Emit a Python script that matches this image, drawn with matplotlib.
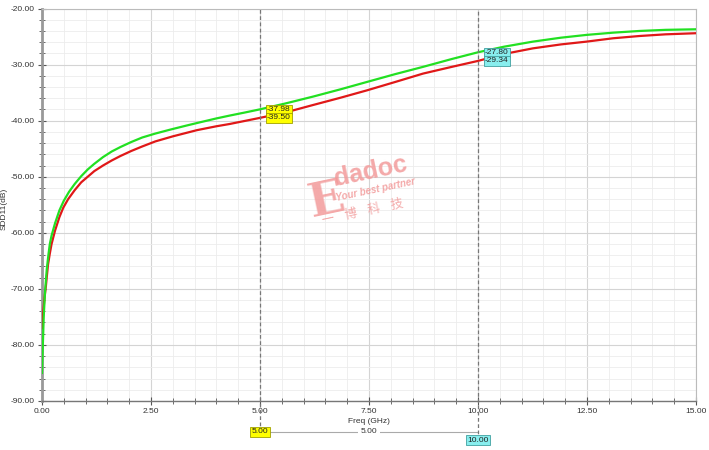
import matplotlib
matplotlib.use("Agg")
import matplotlib.pyplot as plt
from matplotlib.ticker import MultipleLocator, FormatStrFormatter
import matplotlib.transforms as mtransforms

plt.rcParams["font.family"] = ["Liberation Sans", "DejaVu Sans"]

# green trace (SDD11, dB)
freq_g = [0.0, 0.02, 0.04, 0.07, 0.11, 0.15, 0.18, 0.22, 0.30, 0.40, 0.50,
          0.62, 0.75, 0.90, 1.05, 1.20, 1.40, 1.60, 1.80, 2.05, 2.30, 2.60,
          2.94, 3.30, 3.62, 4.0, 4.3, 4.65, 5.0, 5.6, 6.22, 6.85, 7.45, 8.1,
          8.74, 9.4, 10.0, 10.6, 11.26, 11.9, 12.49, 13.1, 13.7, 14.3, 15.0]
sdd_g = [-85.0, -80.0, -75.0, -70.5, -66.5, -63.8, -62.0, -60.5, -58.3, -56.0,
         -54.3, -52.7, -51.3, -49.9, -48.7, -47.7, -46.5, -45.5, -44.7, -43.8,
         -43.0, -42.3, -41.6, -40.9, -40.3, -39.6, -39.1, -38.55, -37.98,
         -36.9, -35.7, -34.4, -33.1, -31.7, -30.4, -29.0, -27.80, -26.8,
         -25.9, -25.2, -24.7, -24.3, -24.0, -23.8, -23.7]

# red trace
freq_r = [0.01, 0.03, 0.06, 0.09, 0.11, 0.14, 0.18, 0.22, 0.30, 0.40, 0.49,
          0.60, 0.75, 0.90, 1.05, 1.20, 1.40, 1.60, 1.80, 2.05, 2.30, 2.60,
          3.0, 3.3, 3.55, 4.0, 4.3, 4.65, 5.0, 5.6, 6.22, 6.85, 7.45, 8.1,
          8.74, 9.4, 10.0, 10.6, 11.26, 11.9, 12.49, 13.1, 13.7, 14.3, 15.0]
sdd_r = [-77.0, -74.0, -71.5, -69.5, -67.9, -65.6, -63.7, -62.0, -59.6, -57.2,
         -55.5, -54.0, -52.4, -51.0, -50.0, -49.0, -48.0, -47.1, -46.3, -45.4,
         -44.6, -43.7, -42.8, -42.2, -41.7, -41.0, -40.6, -40.05, -39.50,
         -38.5, -37.2, -35.9, -34.6, -33.1, -31.6, -30.4, -29.34, -28.1,
         -27.1, -26.4, -25.9, -25.3, -24.9, -24.6, -24.4]

# cursor markers
marker_x = [5.0, 10.0]
marker_green = [-37.98, -27.80]
marker_red = [-39.50, -29.34]
marker_fc = ["#ffff00", "#88eeee"]
marker_ec = ["#a0a000", "#40a0a0"]

GREEN = "#22e022"
RED = "#e01818"

fig = plt.figure(figsize=(7.09, 4.5), dpi=100)
ax = fig.add_axes([0.0592, 0.109, 0.9225, 0.872])

ax.set_xlim(0, 15)
ax.set_ylim(-90, -20)
ax.xaxis.set_major_locator(MultipleLocator(2.5))
ax.xaxis.set_minor_locator(MultipleLocator(0.5))
ax.yaxis.set_major_locator(MultipleLocator(10))
ax.yaxis.set_minor_locator(MultipleLocator(2))
ax.xaxis.set_major_formatter(FormatStrFormatter("%.2f"))
ax.yaxis.set_major_formatter(FormatStrFormatter("%.2f"))

ax.grid(which="major", color="#d4d4d4", lw=0.8)
ax.grid(which="minor", color="#ececec", lw=0.6)
ax.set_axisbelow(True)

ax.tick_params(which="both", direction="inout", color="#555555",
               labelsize=6, labelcolor="#333333", pad=2)
ax.tick_params(which="major", length=6)
ax.tick_params(which="minor", length=4)
for s in ("top", "right"):
    ax.spines[s].set_color("#bbbbbb")
    ax.spines[s].set_linewidth(0.8)
ax.spines["left"].set_color("#999999")
ax.spines["left"].set_linewidth(2.0)
ax.spines["bottom"].set_color("#777777")
ax.spines["bottom"].set_linewidth(1.0)

ax.set_xlabel("Freq (GHz)", fontsize=6, color="#333333", labelpad=2)
ax.set_ylabel("SDD11(dB)", fontsize=6, color="#333333")
ax.yaxis.set_label_coords(-0.052, 0.49)

ax.plot(freq_r, sdd_r, color=RED, lw=1.6, zorder=3)
ax.plot(freq_g, sdd_g, color=GREEN, lw=1.6, zorder=4)

# cursor lines, extended below the axis
trans = mtransforms.blended_transform_factory(ax.transData, ax.transAxes)
drop = [-0.079, -0.10]
for i, x in enumerate(marker_x):
    ax.plot([x, x], [drop[i], 1], transform=trans, color="#777777",
            lw=0.9, ls=(0, (3, 2)), clip_on=False, zorder=5)
    for val in (marker_green[i], marker_red[i]):
        ax.annotate("%.2f" % val, xy=(x, val), xytext=(5, 0),
                    textcoords="offset points", ha="left", va="center",
                    fontsize=6, color="#222222", zorder=6,
                    bbox=dict(boxstyle="square,pad=0.15", fc=marker_fc[i],
                              ec=marker_ec[i], lw=0.6))
    ax.text(x, drop[i], "%.2f" % x, transform=trans, ha="center",
            va="center", fontsize=6, color="#222222", zorder=7,
            bbox=dict(boxstyle="square,pad=0.15", fc=marker_fc[i],
                      ec=marker_ec[i], lw=0.6), clip_on=False)

# delta bar between the cursors
ax.plot([marker_x[0] + 0.2, marker_x[1]], [drop[0], drop[0]], transform=trans,
        color="#aaaaaa", lw=0.8, clip_on=False)
ax.text((marker_x[0] + marker_x[1]) / 2, drop[0],
        "%.2f" % (marker_x[1] - marker_x[0]), transform=trans, ha="center",
        va="center", fontsize=6, color="#333333", clip_on=False,
        bbox=dict(boxstyle="square,pad=0.3", fc="white", ec="none"))

# watermark
wm = "#f29a9a"
ax.text(0.413, 0.47, "E", transform=ax.transAxes, fontsize=34,
        family="DejaVu Serif", weight="bold", color=wm, alpha=0.85,
        rotation=12, rotation_mode="anchor", ha="left", va="baseline")
ax.text(0.45, 0.548, "dadoc", transform=ax.transAxes, fontsize=18,
        weight="bold", color=wm, alpha=0.85, rotation=12,
        rotation_mode="anchor", ha="left", va="baseline")
ax.text(0.45, 0.51, "Your best partner", transform=ax.transAxes,
        fontsize=7, weight="bold", style="italic", color=wm, alpha=0.85,
        rotation=12, rotation_mode="anchor", ha="left", va="baseline")
ax.text(0.43, 0.45, "\u4e00    \u535a    \u79d1    \u6280",
        transform=ax.transAxes, fontsize=9,
        family=["Noto Sans CJK SC", "DejaVu Sans"], color=wm, alpha=0.85,
        rotation=12, rotation_mode="anchor", ha="left", va="baseline")

fig.savefig("out.png", dpi=100)
